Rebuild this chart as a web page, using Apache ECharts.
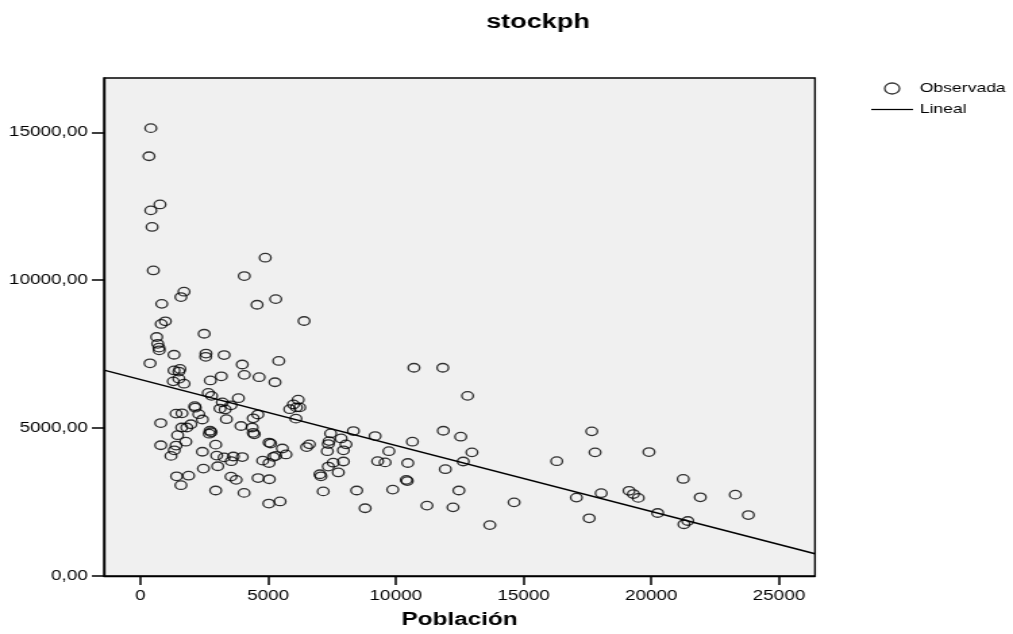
<!DOCTYPE html>
<html>
<head>
<meta charset="utf-8">
<script src="https://cdn.jsdelivr.net/npm/echarts@6/dist/echarts.min.js"></script>
<style>
  html, body { margin: 0; padding: 0; background: #fff; overflow: hidden; }
  /* the source picture is stretched sideways, so the chart is drawn narrower and widened */
  #chart { width: 750px; height: 634px; transform: scaleX(1.35067); transform-origin: 0 0; }
</style>
</head>
<body>
<div id="chart"></div>
<script>
// Población (x) and stockph (y), one entry per circle
const poblacion = [
  410, 340, 770, 410, 460, 510, 4890, 4070, 1710, 1590, 840, 5300, 4570, 980, 820, 6410,
  640, 680, 730, 740, 2500, 380, 1320, 2570, 2560, 3280, 3990, 5420, 1320, 1550, 1510,
  4070, 4650, 5270, 3170, 2740, 1290, 1510, 1710, 2660, 2790, 3840, 3210, 3550, 3120, 3320,
  2130, 2150, 1400, 1630, 2290, 2430, 3370, 800, 1980, 1620, 1820, 1460, 1780, 2730, 2770,
  2700, 3940, 4420, 4600, 4380, 4420, 4460, 5850, 5990, 6180, 6110, 6240, 6090, 8340, 7450,
  7860, 7390, 7360, 8050, 7320, 7950, 6510, 6620, 5040, 5100, 5560, 5700, 5300, 5210, 800,
  1400, 1330, 1200, 2430, 2950, 2990, 3280, 3640, 3560, 3990, 4790, 5040, 3030, 2470, 7550,
  7950, 7360, 7750, 7030, 7070, 1420, 1890, 1590, 3550, 3750, 4610, 5050, 2950, 4060, 7160,
  8470, 5030, 5470, 8800,
  10710, 11840, 12810, 9190, 10650, 11860, 12540, 9730, 12980, 12640, 16300, 17670, 17800,
  9290, 9580, 10470, 11940, 10410, 10450, 9880, 12470, 11220, 12240, 14630, 13680, 17070,
  17570,
  19910, 18040, 19130, 19300, 19490, 20250, 21250, 21920, 23290, 23800, 21430, 21280
];
const stockph = [
  15140, 14190, 12560, 12360, 11800, 10330, 10760, 10140, 9610, 9430, 9200, 9360, 9170, 8610, 8520, 8620,
  8080, 7850, 7720, 7630, 8190, 7190, 7480, 7520, 7410, 7470, 7150, 7270, 6950, 7000, 6910,
  6800, 6720, 6550, 6750, 6610, 6580, 6670, 6500, 6190, 6090, 6010, 5870, 5770, 5660, 5630,
  5740, 5690, 5490, 5500, 5470, 5290, 5300, 5170, 5130, 5020, 5020, 4760, 4540, 4910, 4860,
  4810, 5070, 5330, 5460, 5020, 4840, 4790, 5640, 5800, 5960, 5700, 5700, 5320, 4900, 4820,
  4650, 4560, 4460, 4450, 4220, 4250, 4360, 4450, 4510, 4480, 4310, 4110, 4060, 4030, 4420,
  4410, 4250, 4060, 4200, 4440, 4070, 4010, 4040, 3880, 4020, 3900, 3820, 3710, 3630, 3830,
  3870, 3700, 3500, 3440, 3370, 3370, 3390, 3070, 3360, 3250, 3310, 3270, 2890, 2810, 2860,
  2890, 2450, 2520, 2290,
  7040, 7040, 6090, 4730, 4540, 4910, 4710, 4220, 4180, 3870, 3880, 4890, 4180,
  3880, 3840, 3820, 3610, 3250, 3210, 2920, 2890, 2380, 2320, 2490, 1720, 2650,
  1950,
  4190, 2800, 2880, 2770, 2640, 2130, 3280, 2660, 2750, 2060, 1860, 1750
];
// fitted line, read at both ends of the plot
const linealX = [-1421, 26409];
const linealY = [6960, 750];

const xTicks = [0, 5000, 10000, 15000, 20000, 25000];
const yTicks = [0, 5000, 10000, 15000];

const font = "'Liberation Sans', Arial, sans-serif";

const observed = poblacion.map((x, i) => [x, stockph[i]]);
const lineal = linealX.map((x, i) => [x, linealY[i]]);

const chart = echarts.init(document.getElementById('chart'));

const options = {
  animation: false,
  textStyle: { fontFamily: font, color: '#000' },
  title: {
    text: 'stockph',
    left: 360,
    top: 12,
    padding: 0,
    textStyle: { fontFamily: font, fontSize: 20, fontWeight: 'bold', color: '#000' }
  },
  legend: {
    orient: 'vertical',
    left: 645,
    top: 82,
    itemWidth: 31,
    itemHeight: 11,
    itemGap: 8,
    padding: 0,
    textStyle: { fontFamily: font, fontSize: 13, color: '#000' },
    data: [
      {
        name: 'Observada',
        icon: 'circle',
        itemStyle: { color: 'rgba(0,0,0,0)', borderColor: '#000', borderWidth: 1.3 }
      },
      // plain stroke for the fitted line, no marker
      { name: 'Lineal', icon: 'path://M0,0H40V1.6H0Z', itemStyle: { color: '#000' } }
    ]
  },
  grid: {
    left: 77,
    right: 146.6,
    top: 78,
    bottom: 56,
    show: true,
    backgroundColor: '#f0f0f0',
    borderColor: '#000',
    borderWidth: 1.4
  },
  xAxis: {
    type: 'value',
    min: -1421,
    max: 26409,
    name: 'Población',
    nameLocation: 'middle',
    nameGap: 35,
    nameTextStyle: { fontFamily: font, fontSize: 18, fontWeight: 'bold', color: '#000' },
    axisLine: { onZero: false, lineStyle: { color: '#000', width: 1.4 } },
    axisTick: { length: 9, customValues: xTicks, lineStyle: { color: '#000', width: 1.5 } },
    axisLabel: {
      customValues: xTicks,
      fontSize: 14,
      color: '#000',
      margin: 13,
      formatter: v => String(v)
    },
    splitLine: { show: false }
  },
  yAxis: {
    type: 'value',
    min: 0,
    max: 16835,
    axisLine: { show: true, onZero: false, lineStyle: { color: '#000', width: 1.4 } },
    axisTick: { show: true, length: 9, customValues: yTicks, lineStyle: { color: '#000', width: 1.5 } },
    axisLabel: {
      customValues: yTicks,
      fontSize: 14,
      color: '#000',
      margin: 12,
      formatter: v => v.toFixed(2).replace('.', ',')
    },
    splitLine: { show: false }
  },
  series: [
    {
      name: 'Observada',
      type: 'scatter',
      symbol: 'circle',
      symbolSize: 8.5,
      itemStyle: { color: 'rgba(0,0,0,0)', borderColor: '#000', borderWidth: 1.3 },
      emphasis: { disabled: true },
      data: observed
    },
    {
      name: 'Lineal',
      type: 'line',
      symbol: 'none',
      showSymbol: false,
      lineStyle: { color: '#000', width: 1.5 },
      itemStyle: { color: '#000' },
      emphasis: { disabled: true },
      data: lineal
    }
  ]
};

chart.setOption(options);
</script>
</body>
</html>
